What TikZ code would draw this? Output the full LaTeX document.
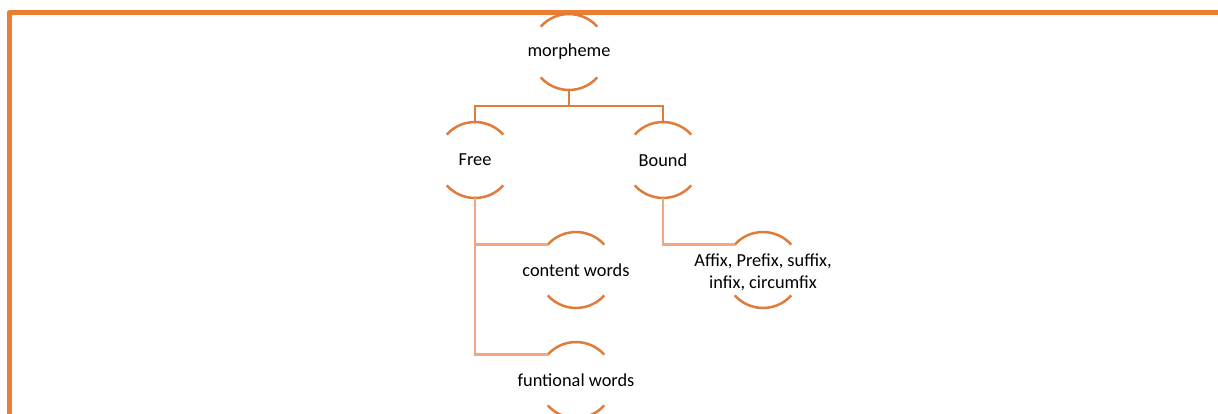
\documentclass[tikz,border=0pt]{standalone}
\usepackage{fontspec}
\setmainfont{Carlito}
\definecolor{framecol}{HTML}{ED7D31}
\definecolor{arccol}{HTML}{E07B39}
\definecolor{lowcol}{HTML}{F4A582}
\tikzset{
  ring/.style={circle, draw=none, minimum size=45.6pt, inner sep=0pt, outer sep=0pt},
  lbl/.style={align=center, font=\fontsize{11}{13.4}\selectfont},
  arcline/.style={draw=arccol, line width=1.5pt},
  upline/.style={draw=arccol, line width=1.4pt},
  lowline/.style={draw=lowcol, line width=1.4pt},
}
\begin{document}
\begin{tikzpicture}[x=0.6pt, y=0.6pt]
% Parameters
\def\rad{22.8pt}
\useasboundingbox (0,0) rectangle (1218,413);
\clip (0,0) rectangle (1218,413);
% Frame
\draw[framecol, line width=3.2pt, line join=round] (1225,400.5) -- (9.5,400.5) -- (9.5,-5);
% Rings (circles shown only by their top and bottom arcs)
\node[ring] (m) at (569,361) {};
\node[ring] (free) at (475,253) {};
\node[ring] (bound) at (663,253) {};
\node[ring] (content) at (576,143) {};
\node[ring] (affix) at (763,143) {};
\node[ring] (funct) at (576,33) {};
\foreach \n in {m,free,bound,content,affix,funct}
  \draw[arcline] (\n.42) arc[start angle=42, end angle=138, radius=\rad]
                 (\n.222) arc[start angle=222, end angle=318, radius=\rad];
% Labels
\node[lbl] (m-t) at (m) {morpheme};
\node[lbl] (free-t) at (free) {Free};
\node[lbl] (bound-t) at (bound) {Bound};
\node[lbl] (content-t) at (content) {content words};
\node[lbl] (affix-t) at ([yshift=-1.2pt]affix) {Affix, Prefix, suffix,\\infix, circumfix};
\node[lbl] (funct-t) at (funct) {funtional words};
% Connectors
\draw[upline] (m.south) -- ++(0,-16) coordinate (mbar);
\draw[upline] (free.north) |- (mbar) -| (bound.north);
\draw[lowline] (free.south) |- (content.138);
\draw[lowline] (free.south) |- (funct.138);
\draw[lowline] (bound.south) |- (affix.138);
\end{tikzpicture}
\end{document}
